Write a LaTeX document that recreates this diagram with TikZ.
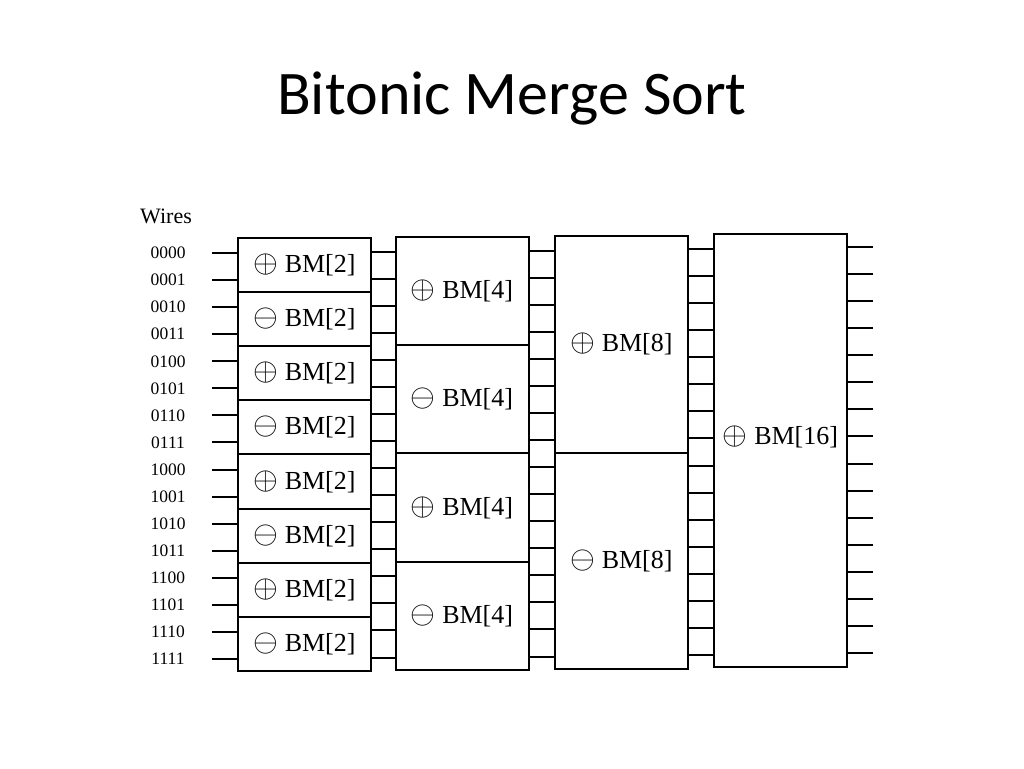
\documentclass[tikz,border=0pt]{standalone}
\usepackage{fontspec}
\setmainfont{Liberation Serif}
\newfontfamily\titlefont{Carlito}
\usepackage{amssymb}
\usepackage{graphicx}
\pgfdeclarelayer{edgelayer}
\pgfdeclarelayer{nodelayer}
\pgfsetlayers{edgelayer,nodelayer,main}
\newcommand{\bmsign}[1]{\scalebox{1.28}{$#1$}}
\tikzstyle{none} = []
\tikzstyle{bm box}=[draw, rectangle, line width=2pt, fill=white, inner sep=0pt, minimum width=133pt, font=\fontsize{26}{26}\selectfont]
\tikzstyle{wire label}=[font=\fontsize{17.5}{17.5}\selectfont]
\tikzstyle{wire}=[line width=2pt]

\begin{document}
\begin{tikzpicture}[x=1pt, y=-1pt]
	\useasboundingbox (0,0) rectangle (1024,768);
	\begin{pgfonlayer}{nodelayer}
		\node [font=\titlefont\fontsize{62}{62}\selectfont] (title) at (512, 98) {Bitonic Merge Sort};
		\node [font=\fontsize{22}{22}\selectfont] (wires) at (166, 216) {Wires};
		\foreach \lab [count=\k from 0] in {0000,0001,0010,0011,0100,0101,0110,0111,1000,1001,1010,1011,1100,1101,1110,1111}
			\node [style=wire label] (l\k) at (168, 253+27.07*\k) {\lab};
		% BM[2] column
		\foreach \s [count=\i from 0] in {\oplus,\ominus,\oplus,\ominus,\oplus,\ominus,\oplus,\ominus}
			\node [style=bm box, minimum height=54.1pt] (a\i) at (304.5, 265.05+54.1*\i) {\bmsign{\s} BM[2]};
		% BM[4] column
		\foreach \s [count=\i from 0] in {\oplus,\ominus,\oplus,\ominus}
			\node [style=bm box, minimum height=108.25pt] (b\i) at (462, 291.1+108.25*\i) {\bmsign{\s} BM[4]};
		% BM[8] column
		\foreach \s [count=\i from 0] in {\oplus,\ominus}
			\node [style=bm box, minimum height=216.5pt] (c\i) at (621.5, 344.25+216.5*\i) {\bmsign{\s} BM[8]};
		% BM[16]
		\node [style=bm box, minimum height=433pt] (d0) at (780.5, 450.5) {};
		\node [font=\fontsize{26}{26}\selectfont] (d0lab) at ([yshift=13.5pt]d0.center) {\bmsign{\oplus} BM[16]};
	\end{pgfonlayer}
	\begin{pgfonlayer}{edgelayer}
		\foreach \k in {0,...,15} {
			\pgfmathtruncatemacro\i{\k/2}
			\pgfmathtruncatemacro\j{\k/4}
			\pgfmathtruncatemacro\m{\k/8}
			\coordinate (in\k) at (212, 253+27.07*\k);
			\coordinate (ga\k) at (0, 251.5+27.07*\k);
			\coordinate (gb\k) at (0, 250.5+27.07*\k);
			\coordinate (gc\k) at (0, 249+27.07*\k);
			\coordinate (out\k) at (873, 247+27.07*\k);
			\draw [style=wire] (in\k) to (a\i.west |- in\k);
			\draw [style=wire] (a\i.east |- ga\k) to (b\j.west |- ga\k);
			\draw [style=wire] (b\j.east |- gb\k) to (c\m.west |- gb\k);
			\draw [style=wire] (c\m.east |- gc\k) to (d0.west |- gc\k);
			\draw [style=wire] (d0.east |- out\k) to (out\k);
		}
	\end{pgfonlayer}
\end{tikzpicture}
\end{document}
